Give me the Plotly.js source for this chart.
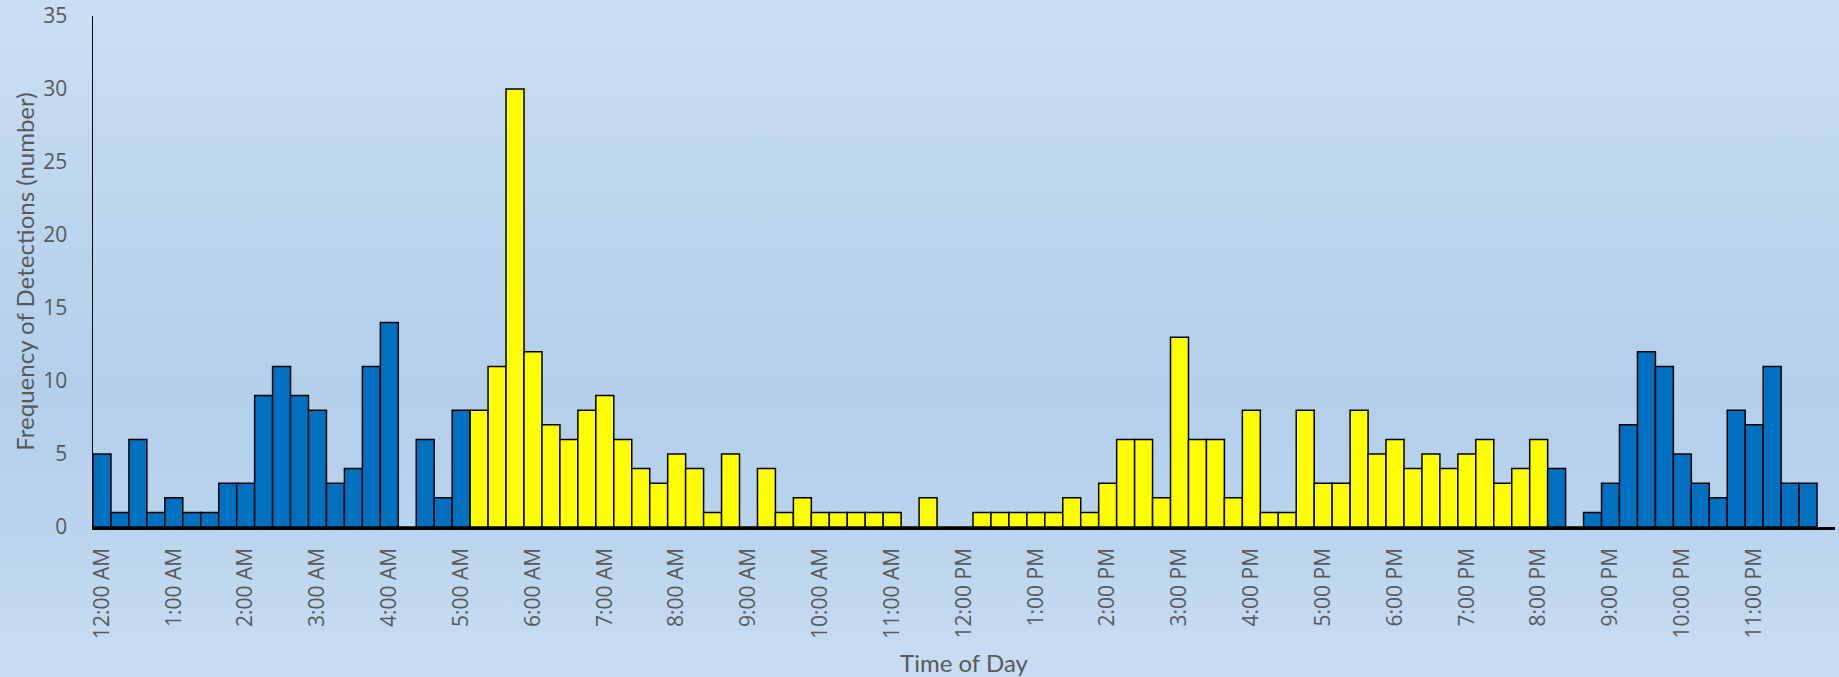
<!DOCTYPE html>
<html>
<head>
<meta charset="utf-8">
<script src="https://cdn.plot.ly/plotly-3.0.1.min.js"></script>
<style>
  html, body { margin: 0; padding: 0; width: 1839px; height: 677px; overflow: hidden; }
  body { background: linear-gradient(to bottom, #CADFF4 0%, #BDD6EE 30%, #B3CFEA 58%, #BAD4ED 78%, #C8DDF2 100%); }
  #chart { width: 1839px; height: 677px; }
</style>
</head>
<body>
<div id="chart"></div>
<script>
// Hour tick labels (one every 4 quarter-hour bins)
const hourLabels = ['12:00 AM','1:00 AM','2:00 AM','3:00 AM','4:00 AM','5:00 AM','6:00 AM','7:00 AM',
  '8:00 AM','9:00 AM','10:00 AM','11:00 AM','12:00 PM','1:00 PM','2:00 PM','3:00 PM',
  '4:00 PM','5:00 PM','6:00 PM','7:00 PM','8:00 PM','9:00 PM','10:00 PM','11:00 PM'];
const quarterMinutes = ['00','15','30','45'];

// Detections per 15-minute bin (96 bins, starting 12:00 AM)
const detections = [
  5,1,6,1,   2,1,1,3,   3,9,11,9,  8,3,4,11,
  14,0,6,2,  8,8,11,30, 12,7,6,8,  9,6,4,3,
  5,4,1,5,   0,4,1,2,   1,1,1,1,   1,0,2,0,
  0,1,1,1,   1,1,2,1,   3,6,6,2,   13,6,6,2,
  8,1,1,8,   3,3,8,5,   6,4,5,4,   5,6,3,4,
  6,4,0,1,   3,7,12,11, 5,3,2,8,   7,11,3,3
];

// Daylight period (yellow) : first and last daylight bins
const daylightStart = '5:15 AM';
const daylightEnd = '8:00 PM';
const nightColor = '#0070C0';
const dayColor = '#FFFF00';

// Build category names for the 15-minute bins
const categories = [];
hourLabels.forEach(h => {
  const [hm, ap] = h.split(' ');
  const hr = hm.split(':')[0];
  quarterMinutes.forEach(m => categories.push(hr + ':' + m + ' ' + ap));
});
const iStart = categories.indexOf(daylightStart);
const iEnd = categories.indexOf(daylightEnd);
const colors = categories.map((c, i) => (i >= iStart && i <= iEnd) ? dayColor : nightColor);

const trace = {
  type: 'bar',
  x: categories,
  y: detections,
  marker: { color: colors, line: { color: '#000000', width: 1.5 } },
  hoverinfo: 'x+y'
};

const titleFont = { family: 'Lato, sans-serif', size: 24, color: '#595959' };

const layout = {
  width: 1839, height: 677,
  margin: { l: 93, r: 4, t: 16, b: 150 },
  paper_bgcolor: 'rgba(0,0,0,0)',
  plot_bgcolor: 'rgba(0,0,0,0)',
  bargap: 0,
  showlegend: false,
  xaxis: {
    type: 'category',
    range: [-0.5, 96.5],
    tickmode: 'array',
    tickvals: hourLabels,
    ticktext: hourLabels,
    tickangle: -90,
    tickfont: { family: 'Open Sans, sans-serif', size: 21, color: '#595959' },
    ticks: '',
    ticklabelstandoff: 10,
    showgrid: false,
    zeroline: false,
    showline: true,
    linecolor: '#000000',
    linewidth: 2.5,
    title: { text: 'Time of Day', font: titleFont, standoff: 19 },
    automargin: false
  },
  yaxis: {
    range: [0, 35],
    dtick: 5,
    tickfont: { family: 'Open Sans, sans-serif', size: 21, color: '#595959' },
    ticks: '',
    ticklabelstandoff: 20,
    showgrid: false,
    zeroline: false,
    showline: true,
    linecolor: '#000000',
    linewidth: 1.5,
    title: { text: 'Frequency of Detections (number)', font: titleFont, standoff: 2 },
    automargin: false
  }
};

Plotly.newPlot('chart', [trace], layout, { displayModeBar: false, staticPlot: true });
</script>
</body>
</html>
